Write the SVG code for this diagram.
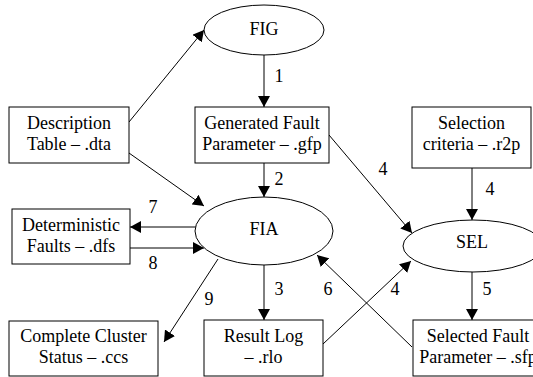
<svg xmlns="http://www.w3.org/2000/svg" width="533" height="377" viewBox="0 0 533 377">
<style>
  .n { fill: #fff; stroke: #000; stroke-width: 1; }
  .c line { stroke: #000; stroke-width: 1; marker-end: url(#ah); }
</style>
<defs>
  <marker id="ah" markerUnits="userSpaceOnUse" markerWidth="12" markerHeight="12" refX="11" refY="6" orient="auto">
    <path d="M0,0 L11,6 L0,12 z" fill="#000"/>
  </marker>
</defs>
<rect width="533" height="377" fill="#fff"/>
<g id="connectors" class="c">
  <line x1="264" y1="55" x2="264" y2="107"/>
  <line x1="129" y1="122" x2="204" y2="30"/>
  <line x1="129" y1="153" x2="204" y2="206"/>
  <line x1="264" y1="163" x2="264" y2="197"/>
  <line x1="329" y1="135" x2="412" y2="233"/>
  <line x1="472" y1="168" x2="472" y2="220"/>
  <line x1="196" y1="227" x2="130" y2="227"/>
  <line x1="130" y1="248" x2="204" y2="248"/>
  <line x1="218" y1="259" x2="164" y2="342"/>
  <line x1="264" y1="265" x2="264" y2="320"/>
  <line x1="412" y1="347" x2="317" y2="255"/>
  <line x1="323" y1="344" x2="411" y2="261"/>
  <line x1="472" y1="272" x2="472" y2="320"/>
</g>
<g id="labels">
  <text x="279" y="82" text-anchor="middle" font-family="Liberation Serif" font-size="18px">1</text>
  <text x="279" y="185" text-anchor="middle" font-family="Liberation Serif" font-size="18px">2</text>
  <text x="383" y="175" text-anchor="middle" font-family="Liberation Serif" font-size="18px">4</text>
  <text x="490" y="195" text-anchor="middle" font-family="Liberation Serif" font-size="18px">4</text>
  <text x="153" y="213" text-anchor="middle" font-family="Liberation Serif" font-size="18px">7</text>
  <text x="153" y="269" text-anchor="middle" font-family="Liberation Serif" font-size="18px">8</text>
  <text x="209" y="305" text-anchor="middle" font-family="Liberation Serif" font-size="18px">9</text>
  <text x="279" y="295" text-anchor="middle" font-family="Liberation Serif" font-size="18px">3</text>
  <text x="328" y="295" text-anchor="middle" font-family="Liberation Serif" font-size="18px">6</text>
  <text x="395" y="295" text-anchor="middle" font-family="Liberation Serif" font-size="18px">4</text>
  <text x="487" y="295" text-anchor="middle" font-family="Liberation Serif" font-size="18px">5</text>
</g>
<g id="FIG"><ellipse class="n" cx="264" cy="30" rx="60" ry="25"/><text x="264" y="35" text-anchor="middle" font-family="Liberation Serif" font-size="18px">FIG</text></g>
<g id="DescriptionTable"><rect class="n" x="9" y="107" width="120" height="56"/><text x="69" y="129" text-anchor="middle" font-family="Liberation Serif" font-size="18px">Description</text><text x="69" y="150" text-anchor="middle" font-family="Liberation Serif" font-size="18px">Table – .dta</text></g>
<g id="GeneratedFault"><rect class="n" x="195" y="107" width="134" height="56"/><text x="262" y="129" text-anchor="middle" font-family="Liberation Serif" font-size="18px">Generated Fault</text><text x="262" y="150" text-anchor="middle" font-family="Liberation Serif" font-size="18px">Parameter – .gfp</text></g>
<g id="SelectionCriteria"><rect class="n" x="412" y="107" width="119" height="61"/><text x="471.5" y="129" text-anchor="middle" font-family="Liberation Serif" font-size="18px">Selection</text><text x="471.5" y="150" text-anchor="middle" font-family="Liberation Serif" font-size="18px">criteria – .r2p</text></g>
<g id="FIA"><ellipse class="n" cx="264" cy="231" rx="69" ry="34"/><text x="264" y="235" text-anchor="middle" font-family="Liberation Serif" font-size="18px">FIA</text></g>
<g id="SEL"><ellipse class="n" cx="473" cy="246" rx="70" ry="26"/><text x="472" y="248" text-anchor="middle" font-family="Liberation Serif" font-size="18px">SEL</text></g>
<g id="DeterministicFaults"><rect class="n" x="12" y="209" width="118" height="55"/><text x="71" y="231" text-anchor="middle" font-family="Liberation Serif" font-size="18px">Deterministic</text><text x="71" y="252" text-anchor="middle" font-family="Liberation Serif" font-size="18px">Faults – .dfs</text></g>
<g id="CompleteCluster"><rect class="n" x="9" y="321" width="149" height="55"/><text x="83.5" y="342" text-anchor="middle" font-family="Liberation Serif" font-size="18px">Complete Cluster</text><text x="83.5" y="363" text-anchor="middle" font-family="Liberation Serif" font-size="18px">Status – .ccs</text></g>
<g id="ResultLog"><rect class="n" x="204" y="320" width="119" height="56"/><text x="263.5" y="342" text-anchor="middle" font-family="Liberation Serif" font-size="18px">Result Log</text><text x="263.5" y="363" text-anchor="middle" font-family="Liberation Serif" font-size="18px">– .rlo</text></g>
<g id="SelectedFault"><rect class="n" x="413" y="320" width="130" height="56"/><text x="478" y="342" text-anchor="middle" font-family="Liberation Serif" font-size="18px">Selected Fault</text><text x="478" y="363" text-anchor="middle" font-family="Liberation Serif" font-size="18px">Parameter – .sfp</text></g>
</svg>
